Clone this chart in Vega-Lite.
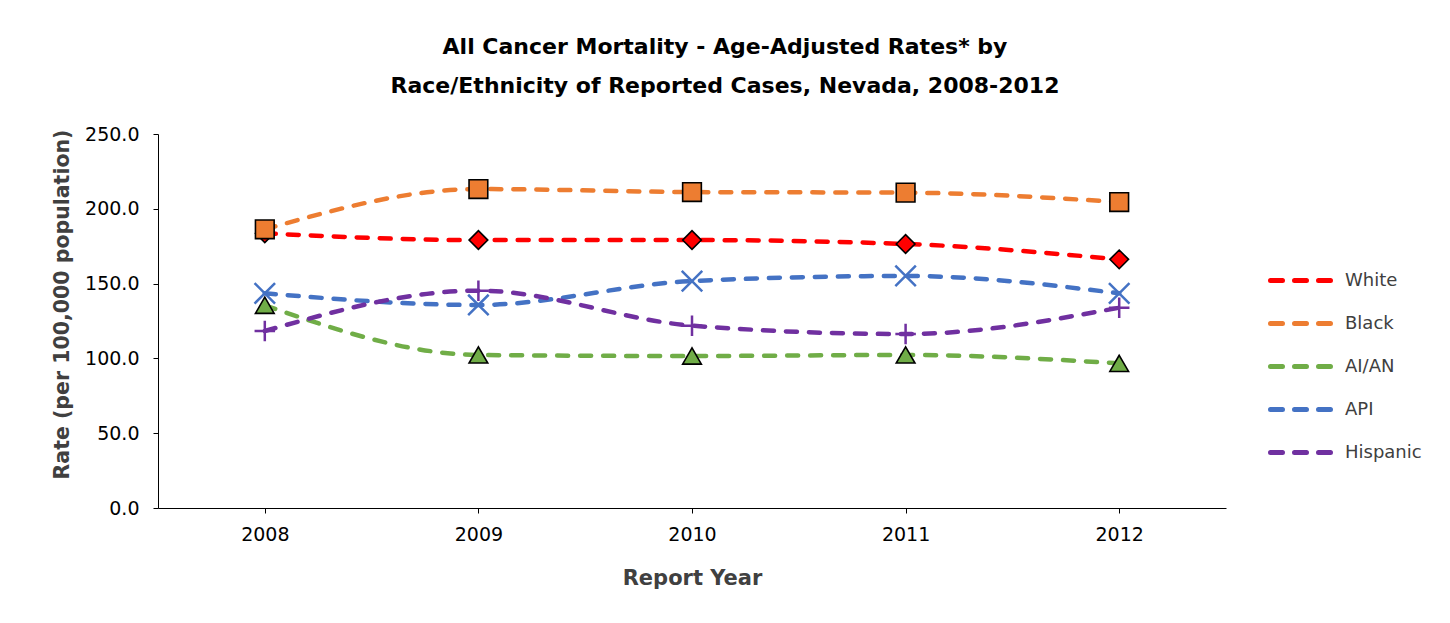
{
  "$schema": "https://vega.github.io/schema/vega-lite/v6.json",
  "width": 1068,
  "height": 374,
  "autosize": {"type": "none"},
  "padding": {"left": 158, "top": 134, "right": 224, "bottom": 115},
  "background": "white",
  "title": {
    "text": ["All Cancer Mortality - Age-Adjusted Rates* by", "Race/Ethnicity of Reported Cases, Nevada, 2008-2012"],
    "font": "DejaVu Sans",
    "fontSize": 22,
    "fontWeight": "bold",
    "color": "black",
    "anchor": "middle",
    "dx": 33,
    "lineHeight": 39,
    "offset": 27
  },
  "config": {
    "view": {"stroke": null},
    "font": "DejaVu Sans",
    "axis": {"grid": false, "domainColor": "black", "tickColor": "black", "tickSize": 5, "labelColor": "black", "titleColor": "#404040", "labelFont": "DejaVu Sans", "titleFont": "DejaVu Sans"},
    "legend": {"labelFont": "DejaVu Sans"}
  },
  "data": {
    "values": [
      {"year": "2008", "group": "White", "rate": 183.6},
      {"year": "2009", "group": "White", "rate": 179.1},
      {"year": "2010", "group": "White", "rate": 179.1},
      {"year": "2011", "group": "White", "rate": 176.5},
      {"year": "2012", "group": "White", "rate": 166.2},
      {"year": "2008", "group": "Black", "rate": 186.3},
      {"year": "2009", "group": "Black", "rate": 213.2},
      {"year": "2010", "group": "Black", "rate": 211.2},
      {"year": "2011", "group": "Black", "rate": 210.8},
      {"year": "2012", "group": "Black", "rate": 204.5},
      {"year": "2008", "group": "AI/AN", "rate": 135.5},
      {"year": "2009", "group": "AI/AN", "rate": 102.3},
      {"year": "2010", "group": "AI/AN", "rate": 101.6},
      {"year": "2011", "group": "AI/AN", "rate": 102.3},
      {"year": "2012", "group": "AI/AN", "rate": 96.7},
      {"year": "2008", "group": "API", "rate": 143.5},
      {"year": "2009", "group": "API", "rate": 135.7},
      {"year": "2010", "group": "API", "rate": 151.7},
      {"year": "2011", "group": "API", "rate": 155.1},
      {"year": "2012", "group": "API", "rate": 143.5},
      {"year": "2008", "group": "Hispanic", "rate": 118.3},
      {"year": "2009", "group": "Hispanic", "rate": 145.3},
      {"year": "2010", "group": "Hispanic", "rate": 121.9},
      {"year": "2011", "group": "Hispanic", "rate": 116.3},
      {"year": "2012", "group": "Hispanic", "rate": 133.9}
    ]
  },
  "encoding": {
    "x": {
      "field": "year",
      "type": "ordinal",
      "scale": {"type": "point", "padding": 0.5},
      "axis": {"labelAngle": 0, "labelFontSize": 19, "labelPadding": 12, "title": "Report Year", "titleFontSize": 21, "titleFontWeight": "bold", "titlePadding": 23}
    },
    "y": {
      "field": "rate",
      "type": "quantitative",
      "scale": {"domain": [0, 250], "nice": false},
      "axis": {"values": [0, 50, 100, 150, 200, 250], "format": ".1f", "labelFontSize": 19, "labelPadding": 14, "title": "Rate (per 100,000 population)", "titleFontSize": 20.5, "titleFontWeight": "bold", "titlePadding": 12, "titleY": 170}
    },
    "color": {
      "field": "group",
      "type": "nominal",
      "scale": {"domain": ["White", "Black", "AI/AN", "API", "Hispanic"], "range": ["#FF0000", "#ED7D31", "#70AD47", "#4472C4", "#7030A0"]},
      "legend": {
        "title": null,
        "orient": "none",
        "legendX": 1120,
        "legendY": 124,
        "symbolType": "M-1.5,0H-0.9M-0.3,0H0.3M0.9,0H1.5",
        "symbolSize": 1600,
        "symbolStrokeWidth": 5,
        "labelFontSize": 18,
        "labelColor": "#404040",
        "labelOffset": 22,
        "rowPadding": 10,
        "encode": {"symbols": {"update": {"strokeCap": {"value": "round"}}}}
      }
    }
  },
  "layer": [
    {
      "mark": {"type": "line", "strokeWidth": 4.5, "strokeDash": [11, 12], "strokeCap": "round", "interpolate": "monotone"}
    },
    {
      "transform": [{"filter": {"field": "group", "equal": "White"}}],
      "mark": {"type": "point", "shape": "diamond", "filled": true, "opacity": 1, "stroke": "black", "strokeWidth": 1.6, "size": 350}
    },
    {
      "transform": [{"filter": {"field": "group", "equal": "Black"}}],
      "mark": {"type": "point", "shape": "square", "filled": true, "opacity": 1, "stroke": "black", "strokeWidth": 1.6, "size": 350}
    },
    {
      "transform": [{"filter": {"field": "group", "equal": "AI/AN"}}],
      "mark": {"type": "point", "shape": "triangle-up", "filled": true, "opacity": 1, "stroke": "black", "strokeWidth": 1.6, "size": 350}
    },
    {
      "transform": [{"filter": {"field": "group", "equal": "API"}}],
      "mark": {"type": "point", "shape": "M-1,-1L1,1M-1,1L1,-1", "filled": false, "opacity": 1, "strokeWidth": 2.5, "size": 420}
    },
    {
      "transform": [{"filter": {"field": "group", "equal": "Hispanic"}}],
      "mark": {"type": "point", "shape": "M-1,0L1,0M0,-1L0,1", "filled": false, "opacity": 1, "strokeWidth": 2.5, "size": 420}
    }
  ]
}
